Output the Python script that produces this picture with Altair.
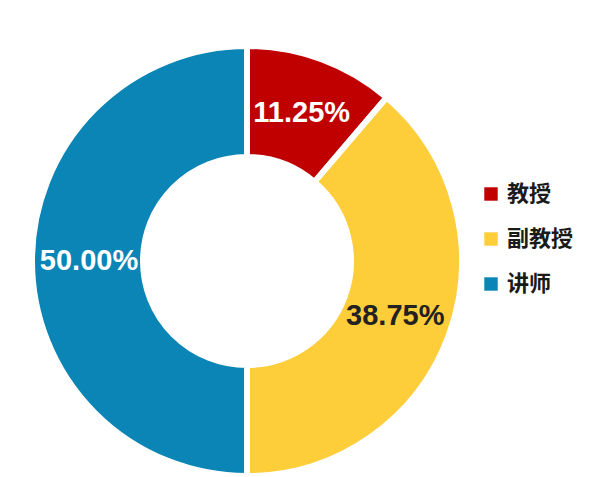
import altair as alt
import pandas as pd

categories = ["教授", "副教授", "讲师"]
shares = [11.25, 38.75, 50.00]
labels = ["11.25%", "38.75%", "50.00%"]
order = [1, 2, 3]
colors = ["#C00000", "#FECD3A", "#0A85B5"]

df = pd.DataFrame({"category": categories, "share": shares, "label": labels, "order": order})

cx, cy = 239, 253

base = alt.Chart(df).encode(
    theta=alt.Theta("share:Q", stack=True),
    order=alt.Order("order:Q"),
    x=alt.value(cx),
    y=alt.value(cy),
)

arcs = base.mark_arc(outerRadius=215, innerRadius=104, stroke="white", strokeWidth=6).encode(
    color=alt.Color(
        "category:N",
        scale=alt.Scale(domain=categories, range=colors),
        sort=categories,
        legend=alt.Legend(
            title=None,
            orient="none",
            legendX=472,
            legendY=175,
            symbolType="square",
            symbolSize=180,
            symbolStrokeWidth=0,
            labelFont="Noto Sans CJK SC",
            labelFontSize=22,
            labelFontWeight="bold",
            labelColor="#1a1a1a",
            rowPadding=23,
            labelOffset=5,
        ),
    )
)

text = base.mark_text(radius=158, font="Liberation Sans", fontSize=29, fontWeight="bold").encode(
    text="label:N",
    color=alt.condition(alt.datum.category == "副教授", alt.value("#222222"), alt.value("white")),
)

chart = (
    alt.layer(arcs, text)
    .properties(width=560, height=455, padding=0)
    .configure_view(stroke=None)
)

chart.save("out.html", embed_options={"renderer": "svg", "actions": False})
